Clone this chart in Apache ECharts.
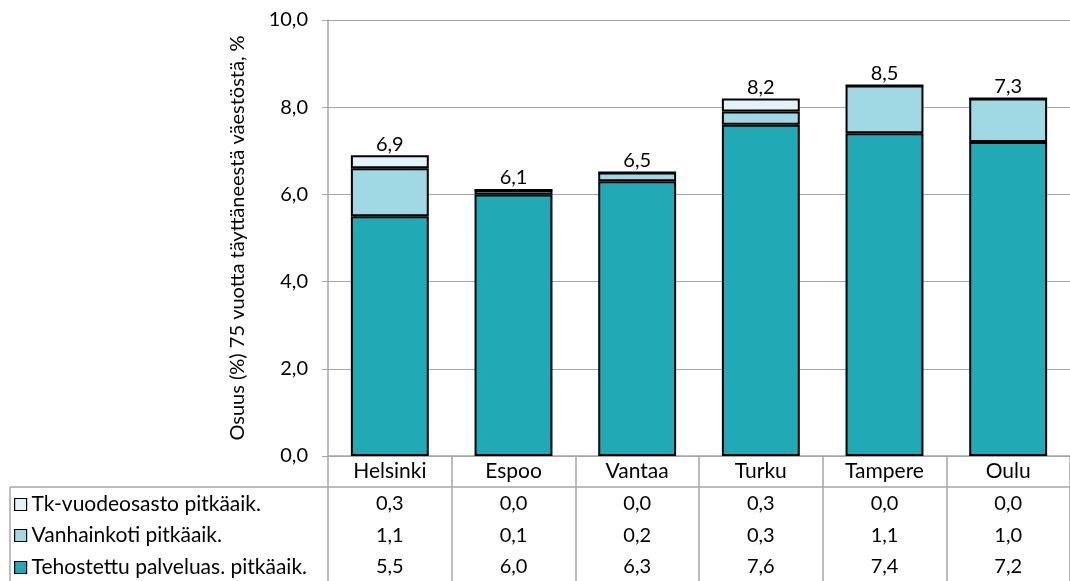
<!DOCTYPE html>
<html>
<head>
<meta charset="utf-8">
<script src="https://cdn.jsdelivr.net/npm/echarts@6/dist/echarts.min.js"></script>
<style>
  html, body { margin: 0; padding: 0; background: #fff; }
  #chart { width: 1070px; height: 581px; }
</style>
</head>
<body>
<div id="chart"></div>
<script>
var cities = ['Helsinki', 'Espoo', 'Vantaa', 'Turku', 'Tampere', 'Oulu']
var seriesNames = ['Tehostettu palveluas. pitkäaik.', 'Vanhainkoti pitkäaik.', 'Tk-vuodeosasto pitkäaik.']
var tehostettu = [5.5, 6.0, 6.3, 7.6, 7.4, 7.2]
var vanhainkoti = [1.1, 0.1, 0.2, 0.3, 1.1, 1.0]
var tkVuodeosasto = [0.3, 0.0, 0.0, 0.3, 0.0, 0.0]
var topLabels = [6.9, 6.1, 6.5, 8.2, 8.5, 7.3]
var yTicks = [0, 2, 4, 6, 8, 10]

var FONT = 'Lato'
var FS = 21
var fmt = function (v) { return Number(v).toFixed(1).replace('.', ',') }
var colors = ['#22a9b6', '#a0d9e3', '#e1f3f7']
var gridColor = '#a6a6a6'

var chart = echarts.init(document.getElementById('chart'))

// table rows under the chart: one category axis per row
var rowData = [tkVuodeosasto, vanhainkoti, tehostettu]
var rowAxes = rowData.map(function (arr, i) {
  return {
    type: 'category',
    gridIndex: 0,
    position: 'bottom',
    offset: 32 + i * 31.5,
    data: arr.map(fmt),
    axisLine: { show: false },
    axisTick: { show: false },
    axisLabel: { color: '#000', fontFamily: FONT, fontSize: 20, margin: 6, interval: 0 }
  }
})

function makeSeries (name, data, color, withLabel) {
  return {
    name: name,
    type: 'bar',
    stack: 'total',
    barWidth: '63%',
    data: data,
    itemStyle: { color: color, borderColor: '#000', borderWidth: 2 },
    label: {
      show: withLabel,
      position: 'top',
      distance: 1,
      color: '#000',
      fontFamily: FONT,
      fontSize: 20,
      formatter: function (p) { return fmt(topLabels[p.dataIndex]) }
    }
  }
}

var legendTops = [494, 525, 557]
var legendOrder = [seriesNames[2], seriesNames[1], seriesNames[0]]

var option = {
  animation: false,
  textStyle: { fontFamily: FONT },
  grid: { left: 328, right: -10, top: 20, height: 436 },
  legend: legendOrder.map(function (n, i) {
    return {
      data: [n],
      left: 14,
      top: legendTops[i],
      padding: 0,
      icon: 'rect',
      itemWidth: 12,
      itemHeight: 12,
      itemGap: 4,
      itemStyle: { borderColor: '#000', borderWidth: 1.2 },
      textStyle: { color: '#000', fontFamily: FONT, fontSize: FS, padding: [0, 0, 0, 0] },
      selectedMode: false
    }
  }),
  xAxis: [{
    type: 'category',
    data: cities,
    axisLine: { lineStyle: { color: gridColor, width: 1.5 } },
    axisTick: { show: true, length: 126, lineStyle: { color: gridColor, width: 1.5 } },
    axisLabel: { color: '#000', fontFamily: FONT, fontSize: FS, margin: 5 }
  }].concat(rowAxes),
  yAxis: {
    type: 'value',
    min: 0,
    max: 10,
    interval: 2,
    name: 'Osuus (%) 75 vuotta täyttäneestä väestöstä, %',
    nameLocation: 'middle',
    nameGap: 80,
    nameTextStyle: { color: '#000', fontFamily: FONT, fontSize: 20 },
    axisLine: { show: true, lineStyle: { color: gridColor, width: 1.5 } },
    axisTick: { show: true, length: 6, lineStyle: { color: gridColor } },
    splitLine: { lineStyle: { color: gridColor, width: 1.2 } },
    axisLabel: { color: '#000', fontFamily: FONT, fontSize: 20, margin: 20, formatter: fmt }
  },
  series: [
    makeSeries(seriesNames[0], tehostettu, colors[0], false),
    makeSeries(seriesNames[1], vanhainkoti, colors[1], false),
    makeSeries(seriesNames[2], tkVuodeosasto, colors[2], true)
  ],
  graphic: [
    { type: 'line', shape: { x1: 10, y1: 487, x2: 1080, y2: 487 }, style: { stroke: gridColor, lineWidth: 1.5 } },
    { type: 'line', shape: { x1: 10, y1: 487, x2: 10, y2: 581 }, style: { stroke: gridColor, lineWidth: 1.5 } }
  ]
}

chart.setOption(option)
</script>
</body>
</html>
